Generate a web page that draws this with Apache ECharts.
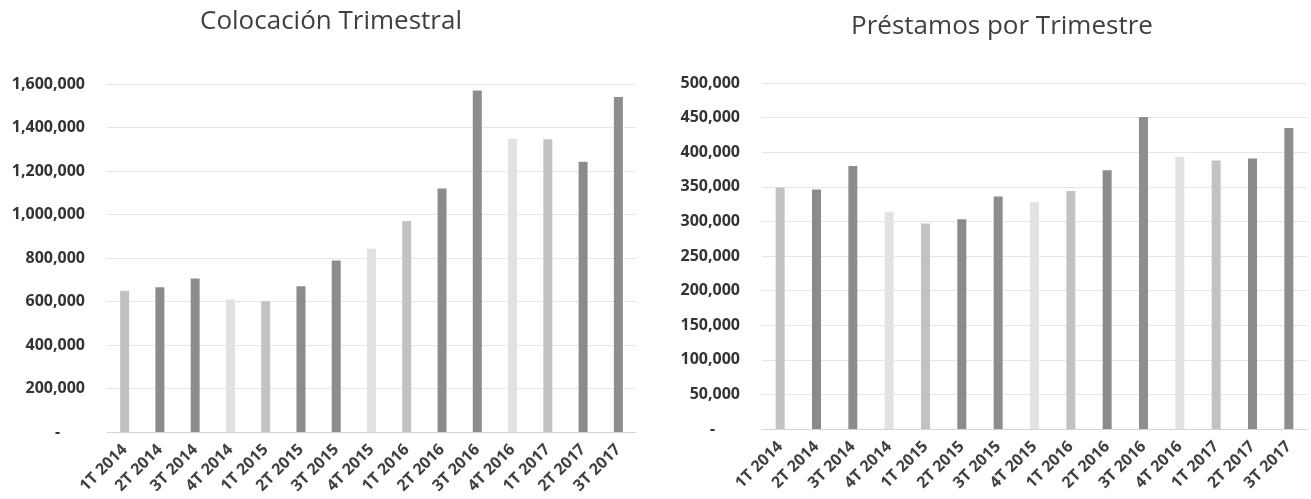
<!DOCTYPE html>
<html>
<head>
<meta charset="utf-8">
<script src="https://cdn.jsdelivr.net/npm/echarts@6/dist/echarts.min.js"></script>
<style>
html,body{margin:0;padding:0;background:#fff;}
#c{width:1311px;height:499px;}
</style>
</head>
<body>
<div id="c"></div>
<script>
const categories = ['1T 2014','2T 2014','3T 2014','4T 2014','1T 2015','2T 2015','3T 2015','4T 2015','1T 2016','2T 2016','3T 2016','4T 2016','1T 2017','2T 2017','3T 2017'];
const colocacion = [650000,666000,706000,609000,601000,670000,789000,843000,970000,1120000,1570000,1348000,1346000,1243000,1540000];
const prestamos = [349000,346000,380000,314000,297000,303000,336000,328000,344000,374000,451000,393000,388000,391000,435000];
const leftTicks = [0,200000,400000,600000,800000,1000000,1200000,1400000,1600000];
const rightTicks = [0,50000,100000,150000,200000,250000,300000,350000,400000,450000,500000];
const titles = ['Colocación Trimestral','Préstamos por Trimestre'];

const quarterColors = {'1T':'#c2c2c2','2T':'#8b8b8b','3T':'#8d8d8d','4T':'#e2e2e2'};
const FONT = '"Open Sans", sans-serif';

function fmt(v){
  if (v === 0) return '-      ';
  return v.toString().replace(/\B(?=(\d{3})+(?!\d))/g, ',');
}
function colorFor(p){ return quarterColors[categories[p.dataIndex].slice(0,2)]; }

function xAxis(gi){
  return {
    type:'category', gridIndex:gi, data:categories,
    axisTick:{show:false},
    axisLine:{lineStyle:{color:'#d4d4d4',width:1}},
    axisLabel:{rotate:45, interval:0, margin:15, color:'#404040', fontFamily:FONT, fontWeight:'bold', fontSize:16}
  };
}
function yAxis(gi, ticks){
  return {
    type:'value', gridIndex:gi, min:ticks[0], max:ticks[ticks.length-1], interval:ticks[1]-ticks[0],
    axisLine:{show:false}, axisTick:{show:false},
    splitLine:{lineStyle:{color:'#e6e6e6',width:1}},
    axisLabel:{formatter:fmt, margin:22, color:'#333333', fontFamily:FONT, fontWeight:'bold', fontSize:16}
  };
}

const chart = echarts.init(document.getElementById('c'), null, {renderer:'canvas'});
chart.setOption({
  animation:false,
  backgroundColor:'#ffffff',
  title:[
    {text:titles[0], left:326, top:4, textAlign:'center', textStyle:{fontFamily:FONT, fontWeight:'normal', fontSize:26, color:'#404040'}},
    {text:titles[1], left:997, top:9, textAlign:'center', textStyle:{fontFamily:FONT, fontWeight:'normal', fontSize:26, color:'#404040'}}
  ],
  grid:[
    {left:107, right:675, top:84, bottom:67},
    {left:762, right:4, top:83, bottom:70}
  ],
  xAxis:[xAxis(0), xAxis(1)],
  yAxis:[yAxis(0, leftTicks), yAxis(1, rightTicks)],
  series:[
    {type:'bar', xAxisIndex:0, yAxisIndex:0, data:colocacion, barWidth:9, itemStyle:{color:colorFor}},
    {type:'bar', xAxisIndex:1, yAxisIndex:1, data:prestamos, barWidth:9, itemStyle:{color:colorFor}}
  ]
});
</script>
</body>
</html>
